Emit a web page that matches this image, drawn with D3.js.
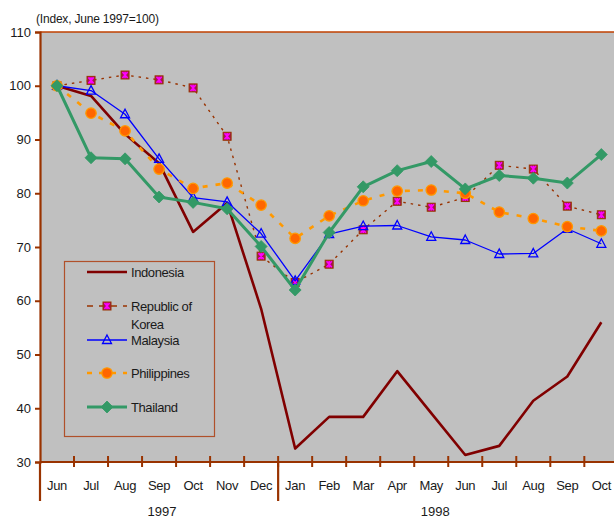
<!DOCTYPE html>
<html>
<head>
<meta charset="utf-8">
<script src="https://cdn.jsdelivr.net/npm/d3@7"></script>
<style>
  html, body { margin: 0; padding: 0; background: #fff; }
  svg { display: block; font-family: Arial, "Liberation Sans", sans-serif; }
</style>
</head>
<body>
<svg id="chart" width="614" height="519"></svg>
<script>
// Monthly index values, June 1997 = 100
const months = ["Jun", "Jul", "Aug", "Sep", "Oct", "Nov", "Dec",
                "Jan", "Feb", "Mar", "Apr", "May", "Jun", "Jul", "Aug", "Sep", "Oct"];
const years = ["1997", "1998"];
const yearStartIndex = [0, 7];
const yTicks = [30, 40, 50, 60, 70, 80, 90, 100, 110];

const indonesia   = [100, 98.1, 91.0, 85.6, 72.8, 78.2, 58.5, 32.5, 38.4, 38.4, 46.9, 39.1, 31.3, 33.0, 41.4, 45.9, 56.0];
const korea       = [100, 101.0, 102.0, 101.1, 99.6, 90.6, 68.3, 63.4, 66.8, 73.2, 78.5, 77.4, 79.2, 85.2, 84.5, 77.6, 76.0];
const malaysia    = [100, 99.1, 94.7, 86.4, 79.2, 78.4, 72.5, 63.7, 72.4, 73.9, 74.0, 71.9, 71.3, 68.7, 68.8, 73.4, 70.6];
const philippines = [100, 94.9, 91.6, 84.5, 80.9, 81.9, 77.8, 71.6, 75.8, 78.6, 80.4, 80.6, 80.0, 76.5, 75.3, 73.8, 73.0];
const thailand    = [100, 86.6, 86.4, 79.3, 78.3, 77.1, 70.1, 62.0, 72.7, 81.2, 84.2, 85.9, 80.8, 83.3, 82.8, 81.9, 87.2];

const seriesNames = ["Indonesia", "Republic of Korea", "Malaysia", "Philippines", "Thailand"];

const series = [
  { name: seriesNames[0], values: indonesia,   color: "#800000", width: 2.6, dash: null,  marker: "none" },
  { name: seriesNames[1], values: korea,       color: "#993300", width: 1.4, dash: "2.5,5", marker: "square" },
  { name: seriesNames[2], values: malaysia,    color: "#0000ff", width: 1.3, dash: null,  marker: "triangle" },
  { name: seriesNames[3], values: philippines, color: "#ff9900", width: 2.6, dash: "5,8", marker: "circle" },
  { name: seriesNames[4], values: thailand,    color: "#339966", width: 3,   dash: null,  marker: "diamond" }
];

const svg = d3.select("#chart");
const margin = { left: 40, top: 32, bottom: 462 };
const bandW = 34.02;
const keys = months.map((m, i) => i);

const x = d3.scaleBand()
  .domain(keys)
  .range([margin.left, margin.left + bandW * months.length])
  .paddingInner(0).paddingOuter(0);
const y = d3.scaleLinear().domain([30, 110]).range([margin.bottom, margin.top]);
const cx = i => x(i) + x.bandwidth() / 2;

const axisColor = "#993300";
const textColor = "#1a1a1a";
const labelFont = "13px";

// plot area
svg.append("rect")
  .attr("x", margin.left).attr("y", margin.top)
  .attr("width", 614 - margin.left).attr("height", margin.bottom - margin.top)
  .attr("fill", "#c0c0c0");
svg.append("line")
  .attr("x1", margin.left).attr("x2", 614)
  .attr("y1", margin.top).attr("y2", margin.top)
  .attr("stroke", "#c04000").attr("stroke-width", 1.6);

// y axis
const yAxis = d3.axisLeft(y).tickValues(yTicks).tickSize(5).tickPadding(4);
const gy = svg.append("g").attr("transform", `translate(${margin.left},0)`).call(yAxis);
gy.select(".domain").attr("stroke", axisColor).attr("stroke-width", 2.2);
gy.selectAll(".tick line").attr("stroke", axisColor).attr("stroke-width", 2);
gy.selectAll(".tick text").attr("fill", textColor).style("font-size", labelFont)
  .style("font-family", "Arial, 'Liberation Sans', sans-serif");

// x axis: month ticks at band boundaries, crossing the axis line
const gx = svg.append("g");
gx.append("line")
  .attr("x1", margin.left).attr("x2", 614)
  .attr("y1", margin.bottom).attr("y2", margin.bottom)
  .attr("stroke", axisColor).attr("stroke-width", 2.2);
gx.selectAll("line.tick").data(keys.slice(1))
  .join("line").attr("class", "tick")
  .attr("x1", d => x(d)).attr("x2", d => x(d))
  .attr("y1", margin.bottom - 6).attr("y2", margin.bottom + 5)
  .attr("stroke", axisColor).attr("stroke-width", 2);
gx.selectAll("text.month").data(keys)
  .join("text").attr("class", "month")
  .attr("x", d => cx(d)).attr("y", 490)
  .attr("text-anchor", "middle")
  .attr("fill", textColor).style("font-size", labelFont)
  .style("letter-spacing", "-0.3px")
  .text(d => months[d]);

// year group separators
gx.selectAll("line.sep").data(yearStartIndex)
  .join("line").attr("class", "sep")
  .attr("x1", d => x(d)).attr("x2", d => x(d))
  .attr("y1", margin.bottom).attr("y2", 501)
  .attr("stroke", axisColor).attr("stroke-width", 2.2);

// year labels
const yearLabelX = [cx(3) + 3, cx(11) + 4];
gx.selectAll("text.year").data(years)
  .join("text").attr("class", "year")
  .attr("x", (d, i) => yearLabelX[i]).attr("y", 516)
  .attr("text-anchor", "middle")
  .attr("fill", textColor).style("font-size", labelFont)
  .text(d => d);

// unit caption
svg.append("text")
  .attr("x", 36).attr("y", 23)
  .attr("fill", textColor).style("font-size", "12px")
  .style("letter-spacing", "-0.2px")
  .text("(Index, June 1997=100)");

// markers
function drawMarker(g, type, px, py) {
  if (type === "square") {
    g.append("rect").attr("x", px - 4).attr("y", py - 4).attr("width", 8).attr("height", 8)
      .attr("fill", "#a0184e").attr("stroke", "#993300").attr("stroke-width", 1);
    g.append("path")
      .attr("d", `M${px-2.6},${py-3}L${px+2.6},${py+3}M${px+2.6},${py-3}L${px-2.6},${py+3}M${px},${py-3.2}L${px},${py+3.2}`)
      .attr("stroke", "#ff00ff").attr("stroke-width", 1.6);
  } else if (type === "triangle") {
    g.append("path")
      .attr("d", `M${px},${py-5}L${px+4.5},${py+3.5}L${px-4.5},${py+3.5}Z`)
      .attr("fill", "none").attr("stroke", "#0000ff").attr("stroke-width", 1.3);
  } else if (type === "circle") {
    g.append("circle").attr("cx", px).attr("cy", py).attr("r", 5.2)
      .attr("fill", "#ff6600").attr("stroke", "#ff9900").attr("stroke-width", 1.3);
  } else if (type === "diamond") {
    g.append("path")
      .attr("d", `M${px},${py-6}L${px+6},${py}L${px},${py+6}L${px-6},${py}Z`)
      .attr("fill", "#339966").attr("stroke", "#339966").attr("stroke-width", 0.8);
  }
}

const line = d3.line().x((d, i) => cx(i)).y(d => y(d));
const plot = svg.append("g");
series.forEach(s => {
  const g = plot.append("g");
  g.append("path").datum(s.values)
    .attr("d", line)
    .attr("fill", "none")
    .attr("stroke", s.color)
    .attr("stroke-width", s.width)
    .attr("stroke-linejoin", "round")
    .attr("stroke-dasharray", s.dash);
  s.values.forEach((v, i) => drawMarker(g, s.marker, cx(i), y(v)));
});

// legend
const legend = svg.append("g");
legend.append("rect")
  .attr("x", 64.5).attr("y", 261.5).attr("width", 150).attr("height", 175)
  .attr("fill", "none").attr("stroke", "#b0502a").attr("stroke-width", 1.2);
const legendY = [272, 306, 340, 373, 407];
series.forEach((s, i) => {
  const ly = legendY[i];
  const g = legend.append("g");
  g.append("line")
    .attr("x1", 87).attr("x2", 127).attr("y1", ly).attr("y2", ly)
    .attr("stroke", s.color).attr("stroke-width", s.width)
    .attr("stroke-dasharray", s.dash ? (s.marker === "square" ? "6,6" : "5,7") : null);
  drawMarker(g, s.marker, 107, ly);
  const t = g.append("text")
    .attr("x", 131).attr("y", ly + 4.5)
    .attr("fill", textColor).style("font-size", labelFont)
    .style("letter-spacing", "-0.4px");
  if (s.name === "Republic of Korea") {
    t.text("Republic of");
    g.append("text").attr("x", 131).attr("y", ly + 22.5)
      .attr("fill", textColor).style("font-size", labelFont)
      .style("letter-spacing", "-0.4px").text("Korea");
  } else {
    t.text(s.name);
  }
});
</script>
</body>
</html>
